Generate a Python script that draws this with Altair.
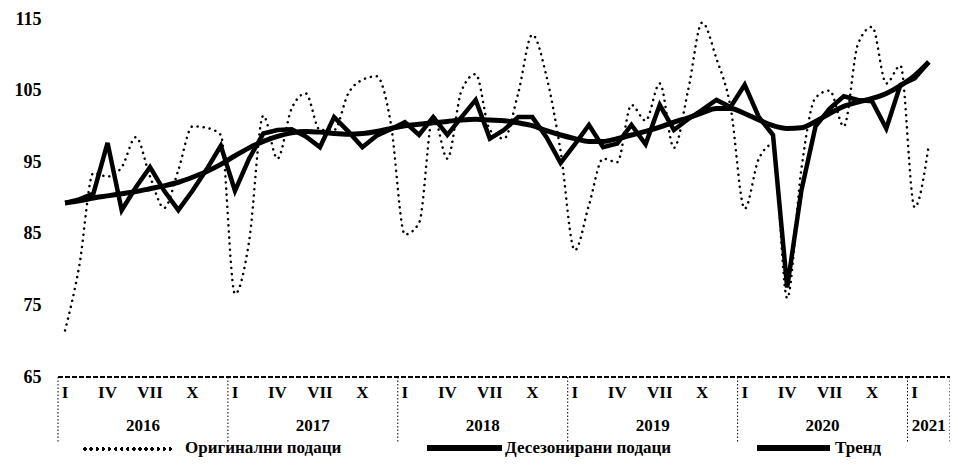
import altair as alt
import pandas as pd

# ---------------- data ----------------
years = [2016, 2017, 2018, 2019, 2020, 2021]
roman = ["I", "II", "III", "IV", "V", "VI", "VII", "VIII", "IX", "X", "XI", "XII"]
tick_months = ["I", "IV", "VII", "X"]
y_ticks = [65, 75, 85, 95, 105, 115]
series_names = ["Оригинални подаци", "Десезонирани подаци", "Тренд"]
axis_months = 63  # Jan 2016 .. Mar 2021 on the category axis

original = [
    71.5, 80.5, 93.5, 93.0, 94.3, 98.5, 93.0, 88.6, 93.9, 100.0, 99.8, 98.8,
    76.6, 84.0, 101.5, 95.5, 102.5, 104.6, 99.5, 99.5, 104.6, 106.5, 107.0, 100.5,
    84.9, 86.5, 101.5, 95.5, 105.0, 107.3, 99.5, 98.3, 104.6, 112.8, 107.0, 96.5,
    82.7, 89.0, 95.5, 95.0, 103.0, 100.8, 106.0, 97.0, 105.0, 114.5, 109.5, 102.7,
    88.5, 95.5, 97.5, 76.0, 94.0, 104.0, 105.0, 100.0, 111.5, 113.9, 106.0, 108.5,
    88.7, 97.4,
]
deseasonal = [
    89.3, 89.8, 90.6, 97.7, 88.3, 91.5, 94.3, 91.0, 88.3, 91.0, 94.0, 97.3,
    91.0, 95.5, 99.0, 99.5, 99.6, 98.6, 97.1, 101.3, 99.3, 97.1, 98.7, 99.6,
    100.6, 98.8, 101.3, 98.8, 101.3, 103.7, 98.3, 99.5, 101.3, 101.3, 98.5, 94.9,
    97.5, 100.2, 97.1, 97.6, 100.2, 97.5, 103.0, 99.5, 101.0, 102.3, 103.7, 102.7,
    105.8, 101.3, 98.8, 77.5, 91.0, 100.0, 102.5, 104.2, 103.7, 103.5, 99.7, 105.8,
    106.7, 109.0,
]
trend = [
    89.3, 89.6, 90.0, 90.3, 90.6, 90.9, 91.3, 91.7, 92.2, 92.9, 93.7, 94.7,
    95.9, 97.0, 97.9, 98.6, 99.1, 99.3, 99.2, 99.0, 98.9, 99.0, 99.3, 99.7,
    100.1, 100.3, 100.5, 100.7, 100.9, 101.0, 100.9, 100.8, 100.5, 100.1, 99.4, 98.8,
    98.3, 97.9, 97.9, 98.3, 98.8, 99.3, 99.9, 100.6, 101.2, 101.9, 102.5, 102.5,
    101.8, 100.9, 100.1, 99.7, 99.8, 100.7, 101.8, 102.8, 103.4, 103.9, 104.6, 105.7,
    107.1, 109.0,
]

# ---------------- tables ----------------
df = pd.DataFrame({
    "pos": [i + 0.5 for i in range(len(original))],
    "orig": original,
    "des": deseasonal,
    "trend": trend,
})

ticks = []
for yi, yr in enumerate(years):
    for m in tick_months:
        idx = yi * 12 + roman.index(m)
        if idx < axis_months:
            ticks.append({"pos": idx + 0.5, "label": m})
ticks_df = pd.DataFrame(ticks)

year_rows = []
bounds = []
for yi, yr in enumerate(years):
    start = yi * 12
    end = min(start + 12, axis_months)
    year_rows.append({"pos": (start + end) / 2, "label": str(yr)})
    bounds.append({"pos": start})
bounds.append({"pos": axis_months})
years_df = pd.DataFrame(year_rows)
bounds_df = pd.DataFrame(bounds)

# ---------------- layout ----------------
W, H = 892, 358
FONT = "Liberation Serif"
x_scale = alt.Scale(domain=[0, axis_months], nice=False, zero=False)
y_scale = alt.Scale(domain=[65, 115], nice=False, zero=False)
X = alt.X("pos:Q", scale=x_scale, axis=None)

dots = dict(strokeDash=[0.1, 6], strokeCap="round", strokeWidth=2.5)

orig_line = alt.Chart(df).mark_line(
    interpolate="monotone", color="black", **dots
).encode(
    x=X,
    y=alt.Y("orig:Q", scale=y_scale, axis=alt.Axis(
        values=y_ticks, domain=False, ticks=False, tickSize=0, grid=False,
        labelFont=FONT, labelFontWeight="bold", labelFontSize=18,
        labelColor="black", labelPadding=17, title=None)),
)
trend_line = alt.Chart(df).mark_line(
    interpolate="monotone", color="black", strokeWidth=5
).encode(x=X, y=alt.Y("trend:Q", scale=y_scale))
des_line = alt.Chart(df).mark_line(
    color="black", strokeWidth=4.5, strokeJoin="miter"
).encode(x=X, y=alt.Y("des:Q", scale=y_scale))

axis_line = alt.Chart(df).mark_rule(
    color="black", strokeWidth=1.6, strokeDash=[5, 2]
).encode(x=alt.value(0), x2=alt.value(W), y=alt.value(H))

seps = alt.Chart(bounds_df).mark_rule(
    color="black", strokeWidth=1, strokeDash=[1.5, 2]
).encode(x=alt.X("pos:Q", scale=x_scale), y=alt.value(H), y2=alt.value(H + 66))

month_text = alt.Chart(ticks_df).mark_text(
    font=FONT, fontWeight="bold", fontSize=17, baseline="middle", align="center", color="black"
).encode(x=alt.X("pos:Q", scale=x_scale), y=alt.value(H + 16), text="label:N")

year_text = alt.Chart(years_df).mark_text(
    font=FONT, fontWeight="bold", fontSize=17, baseline="middle", align="center", color="black"
).encode(x=alt.X("pos:Q", scale=x_scale), y=alt.value(H + 49), text="label:N")

# ---------------- legend (drawn) ----------------
LY = H + 71
leg_dot = alt.Chart(df).mark_rule(color="black", **dots).encode(
    x=alt.value(27), x2=alt.value(117), y=alt.value(LY + 1))
leg_des = alt.Chart(df).mark_rule(color="black", strokeWidth=4.5).encode(
    x=alt.value(369), x2=alt.value(444), y=alt.value(LY))
leg_tr = alt.Chart(df).mark_rule(color="black", strokeWidth=5).encode(
    x=alt.value(699), x2=alt.value(772), y=alt.value(LY))

leg_labels = pd.DataFrame({"label": series_names, "slot": [0, 1, 2]})
leg_x = [127, 447, 777]
leg_texts = [
    alt.Chart(leg_labels.iloc[[k]]).mark_text(
        font=FONT, fontWeight="bold", fontSize=17, baseline="middle", align="left", color="black"
    ).encode(x=alt.value(leg_x[k]), y=alt.value(LY), text="label:N")
    for k in range(3)
]

chart = alt.layer(
    orig_line, trend_line, des_line, axis_line, seps, month_text, year_text,
    leg_dot, leg_des, leg_tr, *leg_texts
).properties(
    width=W, height=H,
    padding={"left": 50, "top": 11, "right": 0, "bottom": 81},
    autosize=alt.AutoSizeParams(type="none"),
    background="white",
).configure_view(strokeWidth=0)

chart.save("out.html", embed_options={"renderer": "svg", "actions": False})
